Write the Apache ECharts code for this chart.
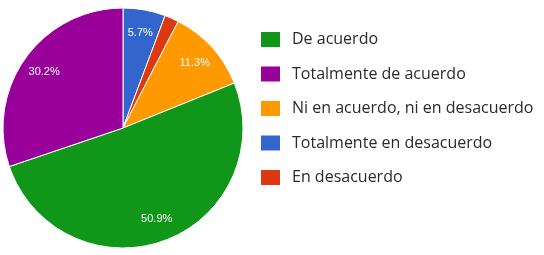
<!DOCTYPE html>
<html><head><meta charset="utf-8">
<script src="https://cdn.jsdelivr.net/npm/echarts@6/dist/echarts.min.js"></script>
<style>html,body{margin:0;padding:0;background:#fff}#c{width:544px;height:255px}</style>
</head><body><div id="c"></div>
<script>
// Slice order clockwise from 12 o'clock
const categories = ["Totalmente en desacuerdo", "En desacuerdo", "Ni en acuerdo, ni en desacuerdo", "De acuerdo", "Totalmente de acuerdo"];
const values = [5.7, 1.9, 11.3, 50.9, 30.2];
const colors = ["#3366cc", "#dc3912", "#ff9900", "#109618", "#990099"];
const legendOrder = ["De acuerdo", "Totalmente de acuerdo", "Ni en acuerdo, ni en desacuerdo", "Totalmente en desacuerdo", "En desacuerdo"];

const data = categories.map((n, i) => ({ name: n, value: values[i], itemStyle: { color: colors[i] } }));
const chart = echarts.init(document.getElementById('c'), null, { renderer: 'canvas' });
chart.setOption({
  animation: false,
  legend: {
    orient: 'vertical', left: 254, top: 25,
    itemWidth: 21, itemHeight: 17, itemGap: 15.5,
    data: legendOrder.map(n => ({ name: n, icon: 'rect' })),
    textStyle: { fontFamily: 'Open Sans', fontSize: 16, color: '#2a2a2a', padding: [0, 0, 0, 6] },
    selectedMode: false
  },
  series: [
    {
      type: 'pie', center: [123, 128], radius: [0, 120], startAngle: 90, clockwise: true,
      data: data,
      itemStyle: { borderColor: '#fff', borderWidth: 1 },
      label: { show: false }, labelLine: { show: false }
    },
    {
      type: 'pie', center: [123, 128], radius: [68, 120], startAngle: 90, clockwise: true,
      silent: true, legendHoverLink: false,
      data: categories.map((n, i) => ({ name: n, value: values[i], itemStyle: { color: 'rgba(0,0,0,0)' } })),
      itemStyle: { borderWidth: 0 },
      label: {
        show: true, position: 'inside', color: '#fff', fontFamily: 'Arial', fontSize: 11,
        formatter: p => p.value >= 5 ? p.value.toFixed(1) + '%' : ''
      },
      labelLine: { show: false }
    }
  ]
});
</script></body></html>
